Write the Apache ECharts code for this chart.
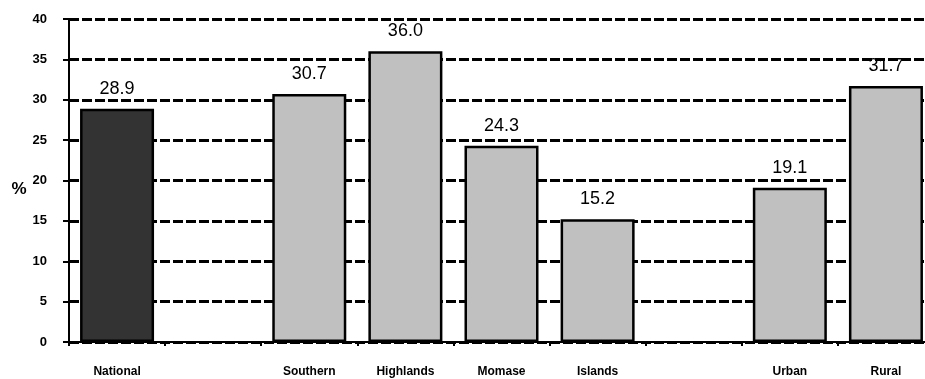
<!DOCTYPE html>
<html>
<head>
<meta charset="utf-8">
<script src="https://cdn.jsdelivr.net/npm/echarts@6/dist/echarts.min.js"></script>
<style>
  html, body { margin: 0; padding: 0; background: #fff; }
  #chart { width: 925px; height: 379px; }
</style>
</head>
<body>
<div id="chart"></div>
<script>
// Region / area categories (blank slots separate the groups)
const categories = ['National', '', 'Southern', 'Highlands', 'Momase', 'Islands', '', 'Urban', 'Rural'];
// Percentage values per category ('-' = empty slot)
const values = [28.9, '-', 30.7, 36.0, 24.3, 15.2, '-', 19.1, 31.7];
// Fill colours: national total dark, breakdowns light grey
const fillColors = ['#333333', null, '#c0c0c0', '#c0c0c0', '#c0c0c0', '#c0c0c0', null, '#c0c0c0', '#c0c0c0'];
const yTicks = { min: 0, max: 40, interval: 5 };

const FONT = 'Arial, "Liberation Sans", sans-serif';
const chart = echarts.init(document.getElementById('chart'));

chart.setOption({
  animation: false,
  // plot area runs slightly past the right edge of the canvas
  grid: { left: 69, top: 19, width: 865, height: 323, outerBoundsMode: 'none' },
  xAxis: {
    type: 'category',
    data: categories,
    axisLine: { lineStyle: { color: '#000', width: 2 } },
    axisTick: { show: true, length: 4, lineStyle: { color: '#000', width: 2 } },
    axisLabel: {
      color: '#000', fontFamily: FONT,
      fontWeight: 'bold', fontSize: 12, margin: 24, interval: 0
    },
    splitLine: { show: false }
  },
  yAxis: {
    type: 'value',
    min: yTicks.min, max: yTicks.max, interval: yTicks.interval,
    name: '%',
    nameLocation: 'middle',
    nameGap: 42,
    nameRotate: 0,
    nameTextStyle: { color: '#000', fontFamily: FONT, fontWeight: 'bold', fontSize: 17, verticalAlign: 'top' },
    axisLine: { show: true, lineStyle: { color: '#000', width: 2 } },
    axisTick: { show: true, length: 6, lineStyle: { color: '#000', width: 2 } },
    axisLabel: {
      color: '#000', fontFamily: FONT,
      fontWeight: 'bold', fontSize: 13, margin: 22
    },
    splitLine: { show: true, lineStyle: { color: '#000', width: 3, type: [10, 3] } }
  },
  series: [{
    type: 'bar',
    data: values.map((v, i) => ({
      value: v,
      itemStyle: { color: fillColors[i] || '#c0c0c0' }
    })),
    barWidth: '77%',
    itemStyle: { borderColor: '#000', borderWidth: 2.5 },
    label: {
      show: true,
      position: 'top',
      distance: 11,
      color: '#000',
      fontFamily: FONT,
      fontSize: 18,
      formatter: p => Number(p.value).toFixed(1)
    }
  }]
});
</script>
</body>
</html>
